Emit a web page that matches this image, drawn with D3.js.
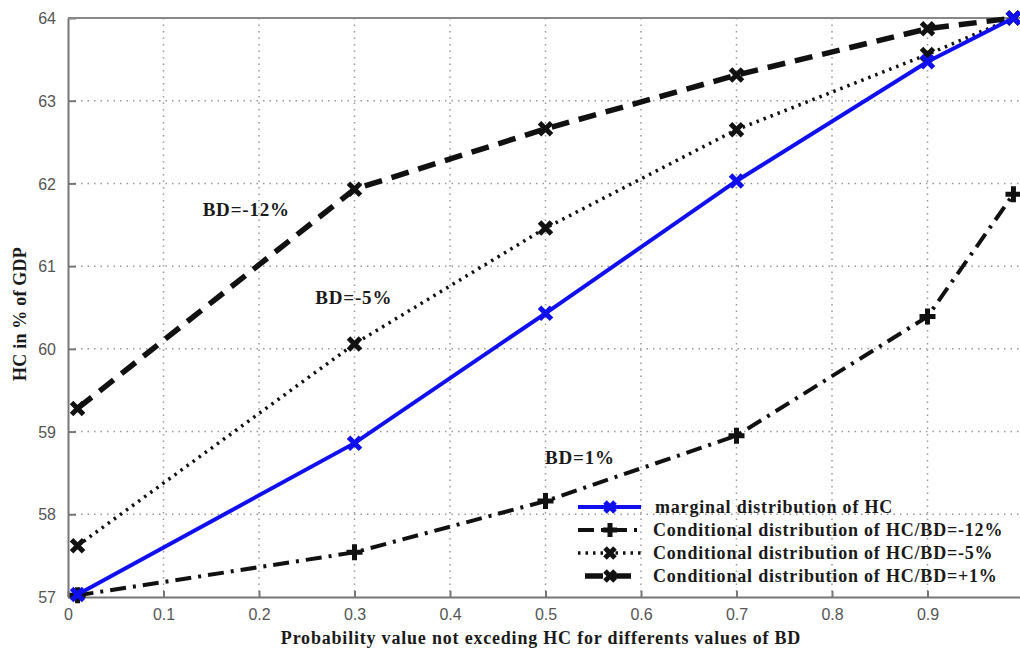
<!DOCTYPE html>
<html>
<head>
<meta charset="utf-8">
<script src="https://cdn.jsdelivr.net/npm/d3@7"></script>
<style>
  body { margin: 0; background: #fff; }
  svg { display: block; }
  .tick text { font-family: "Liberation Sans", Arial, sans-serif; font-size: 16px; fill: #555; }
  .serif { font-family: "Liberation Serif", "Times New Roman", serif; font-weight: bold; fill: #1a1a1a; }
</style>
</head>
<body>
<svg width="1020" height="649"></svg>
<script>
// x positions of the points (probability values)
var probs = [0.01, 0.3, 0.5, 0.7, 0.9, 0.99];

// HC values
var marginal = [57.03, 58.86, 60.43, 62.03, 63.47, 64.0];
var bdMinus12 = [57.02, 57.54, 58.16, 58.95, 60.39, 61.87];
var bdMinus5 = [57.62, 60.06, 61.46, 62.65, 63.56, 64.0];
var bdPlus1 = [59.28, 61.93, 62.66, 63.31, 63.87, 64.0];

var xTicks = [0, 0.1, 0.2, 0.3, 0.4, 0.5, 0.6, 0.7, 0.8, 0.9];
var yTicks = [57, 58, 59, 60, 61, 62, 63, 64];

var legendLabels = [
  "marginal distribution of HC",
  "Conditional distribution of HC/BD=-12%",
  "Conditional distribution of HC/BD=-5%",
  "Conditional distribution of HC/BD=+1%"
];

var svg = d3.select("svg"),
    margin = {top: 18, right: -3, bottom: 52, left: 68},
    width = +svg.attr("width") - margin.left - margin.right,
    height = +svg.attr("height") - margin.top - margin.bottom,
    g = svg.append("g").attr("transform", "translate(" + margin.left + "," + margin.top + ")");

var x = d3.scaleLinear().domain([0, 1]).range([0, width]);
var y = d3.scaleLinear().domain([57, 64]).range([height, 0]);

// dotted grid
g.append("g").selectAll("line")
  .data(xTicks.slice(1))
  .enter().append("line")
    .attr("x1", d => x(d)).attr("x2", d => x(d))
    .attr("y1", 0).attr("y2", height)
    .attr("stroke", "#999").attr("stroke-width", 1.5)
    .attr("stroke-dasharray", "1.5,5");

g.append("g").selectAll("line")
  .data(yTicks.slice(1, -1))
  .enter().append("line")
    .attr("x1", 0).attr("x2", width)
    .attr("y1", d => y(d)).attr("y2", d => y(d))
    .attr("stroke", "#999").attr("stroke-width", 1.5)
    .attr("stroke-dasharray", "1.5,5");

// axes (matlab style, ticks inward)
var xAxis = g.append("g")
  .attr("transform", "translate(0," + height + ")")
  .call(d3.axisBottom(x).tickValues(xTicks).tickSizeInner(-6).tickSizeOuter(0).tickPadding(12).tickFormat(d3.format("")));
var yAxis = g.append("g")
  .call(d3.axisLeft(y).tickValues(yTicks).tickSizeInner(-8).tickSizeOuter(0).tickPadding(12).tickFormat(d3.format("d")));
[xAxis, yAxis].forEach(function(a) {
  a.select(".domain").attr("stroke", "#777").attr("stroke-width", 2);
  a.selectAll(".tick line").attr("stroke", "#777").attr("stroke-width", 2);
});
yAxis.selectAll(".tick text").attr("dy", "0.35em");

// top frame
g.append("line")
  .attr("x1", 0).attr("x2", width).attr("y1", 0).attr("y2", 0)
  .attr("stroke", "#888").attr("stroke-width", 2);

var line = d3.line()
  .x(d => x(d[0]))
  .y(d => y(d[1]));

var series = [
  {values: bdMinus5, color: "#111", width: 3.5, dash: "2.5,5", cap: "butt", marker: "x"},
  {values: bdMinus12, color: "#111", width: 4, dash: "16,7,3,7", cap: "butt", marker: "+"},
  {values: bdPlus1, color: "#111", width: 5.5, dash: "18,10", cap: "butt", marker: "x"},
  {values: marginal, color: "#1010ee", width: 4, dash: null, cap: "round", marker: "x"}
];

function drawMarker(sel, type, color, size) {
  var s = size;
  var p = type === "x"
    ? "M" + (-s) + "," + (-s) + "L" + s + "," + s + "M" + (-s) + "," + s + "L" + s + "," + (-s)
    : "M" + (-s - 2) + ",0L" + (s + 2) + ",0M0," + (-s - 2) + "L0," + (s + 2);
  sel.append("path")
    .attr("d", p)
    .attr("fill", "none")
    .attr("stroke", color)
    .attr("stroke-width", 5);
}

series.forEach(function(s) {
  var pts = probs.map((p, i) => [p, s.values[i]]);
  g.append("path")
    .datum(pts)
    .attr("fill", "none")
    .attr("stroke", s.color)
    .attr("stroke-width", s.width)
    .attr("stroke-linecap", s.cap)
    .attr("stroke-dasharray", s.dash)
    .attr("d", line);
  g.append("g").selectAll("g")
    .data(pts)
    .enter().append("g")
      .attr("transform", d => "translate(" + x(d[0]) + "," + y(d[1]) + ")")
      .each(function() { drawMarker(d3.select(this), s.marker, s.color, 6); });
});

// annotations
var notes = [
  {text: "BD=-12%", v: [0.141, 61.61]},
  {text: "BD=-5%", v: [0.259, 60.54]},
  {text: "BD=1%", v: [0.4995, 58.61]}
];
g.selectAll(".note")
  .data(notes)
  .enter().append("text")
    .attr("class", "serif")
    .attr("x", d => x(d.v[0]))
    .attr("y", d => y(d.v[1]))
    .attr("font-size", 19)
    .attr("letter-spacing", 0.8)
    .text(d => d.text);

// legend
var legendStyles = [series[3], series[1], series[0], series[2]];
var legend = g.append("g")
  .attr("transform", "translate(510,489)")
  .selectAll("g")
  .data(legendLabels)
  .enter().append("g")
    .attr("transform", (d, i) => "translate(0," + i * 23 + ")");

legend.each(function(d, i) {
  var s = legendStyles[i];
  var el = d3.select(this);
  el.append("line")
    .attr("x1", i === 3 ? 7 : 0).attr("x2", 63)
    .attr("stroke", s.color)
    .attr("stroke-width", s.width)
    .attr("stroke-dasharray", s.dash);
  el.append("g")
    .attr("transform", "translate(32,0)")
    .call(drawMarker, s.marker, s.color, 5);
  el.append("text")
    .attr("class", "serif")
    .attr("x", i === 0 ? 77 : 75)
    .attr("dy", "0.34em")
    .attr("font-size", 18)
    .attr("letter-spacing", 0.8)
    .text(d);
});

// axis titles
svg.append("text")
  .attr("class", "serif")
  .attr("transform", "translate(26,314) rotate(-90)")
  .attr("text-anchor", "middle")
  .attr("font-size", 18)
  .attr("letter-spacing", 0.2)
  .text("HC in % of GDP");

svg.append("text")
  .attr("class", "serif")
  .attr("x", 541)
  .attr("y", 644)
  .attr("text-anchor", "middle")
  .attr("font-size", 18)
  .attr("letter-spacing", 0.8)
  .text("Probability value not exceding HC for differents values of BD");
</script>
</body>
</html>
